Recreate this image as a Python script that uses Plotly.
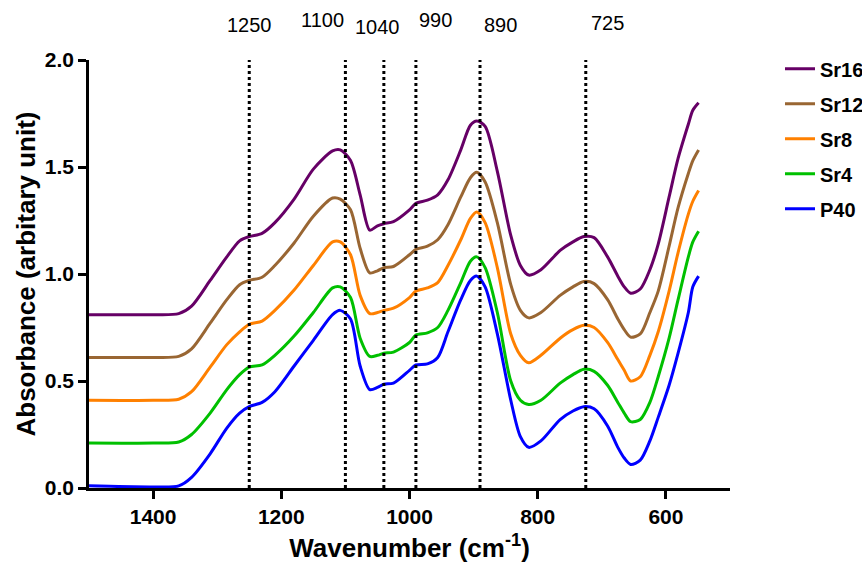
import plotly.graph_objects as go

# ---------------- data ----------------
wavenumber = [1500, 1400, 1360, 1340, 1311, 1285, 1265, 1250, 1230, 1210, 1180, 1150,
              1120, 1108, 1092, 1077, 1062, 1050, 1040, 1025, 1000, 990, 972, 956, 940,
              920, 905, 895, 882, 863, 842, 827, 814, 795, 765, 745, 728, 712, 691, 675,
              665, 655, 640, 625, 612, 595, 581, 565, 558, 549]

p40 = [0.01, 0.005, 0.01, 0.05, 0.16, 0.28, 0.35, 0.38, 0.40, 0.45, 0.57, 0.69,
       0.81, 0.83, 0.79, 0.57, 0.46, 0.47, 0.485, 0.49, 0.55, 0.575, 0.58, 0.61, 0.73,
       0.88, 0.97, 0.99, 0.94, 0.72, 0.41, 0.24, 0.19, 0.22, 0.32, 0.36, 0.38, 0.37, 0.29, 0.19,
       0.14, 0.11, 0.13, 0.22, 0.33, 0.48, 0.63, 0.82, 0.94, 0.99]

sr4 = [0.21, 0.21, 0.215, 0.25, 0.35, 0.46, 0.53, 0.565, 0.575, 0.62, 0.71, 0.82,
       0.935, 0.94, 0.89, 0.70, 0.615, 0.62, 0.63, 0.635, 0.68, 0.715, 0.725, 0.75, 0.83,
       0.96, 1.06, 1.08, 1.03, 0.82, 0.50, 0.41, 0.39, 0.41, 0.49, 0.53, 0.555, 0.545, 0.48, 0.40,
       0.35, 0.31, 0.32, 0.40, 0.52, 0.70, 0.88, 1.08, 1.15, 1.20]

sr8 = [0.41, 0.41, 0.415, 0.45, 0.565, 0.67, 0.73, 0.765, 0.78, 0.83, 0.925, 1.04,
       1.15, 1.15, 1.09, 0.90, 0.815, 0.82, 0.83, 0.84, 0.89, 0.92, 0.935, 0.96, 1.04,
       1.16, 1.26, 1.29, 1.24, 1.03, 0.72, 0.62, 0.585, 0.62, 0.70, 0.74, 0.76, 0.75, 0.68, 0.60,
       0.55, 0.50, 0.52, 0.62, 0.73, 0.92, 1.10, 1.28, 1.34, 1.39]

sr12 = [0.61, 0.61, 0.615, 0.65, 0.77, 0.88, 0.95, 0.97, 0.985, 1.04, 1.145, 1.27,
        1.355, 1.35, 1.30, 1.12, 1.005, 1.015, 1.03, 1.035, 1.09, 1.115, 1.13, 1.16, 1.23,
        1.36, 1.45, 1.475, 1.43, 1.24, 0.95, 0.83, 0.795, 0.82, 0.90, 0.94, 0.965, 0.955, 0.88, 0.79,
        0.74, 0.705, 0.72, 0.82, 0.92, 1.13, 1.31, 1.47, 1.53, 1.58]

sr16 = [0.81, 0.81, 0.815, 0.85, 0.97, 1.08, 1.155, 1.175, 1.19, 1.24, 1.35, 1.49,
        1.575, 1.58, 1.53, 1.37, 1.205, 1.225, 1.235, 1.245, 1.30, 1.33, 1.345, 1.37, 1.44,
        1.58, 1.695, 1.715, 1.69, 1.48, 1.18, 1.04, 0.995, 1.02, 1.11, 1.15, 1.175, 1.17, 1.08, 0.99,
        0.94, 0.91, 0.93, 1.02, 1.14, 1.36, 1.54, 1.70, 1.765, 1.80]

series_names = ["Sr16", "Sr12", "Sr8", "Sr4", "P40"]
series_values = [sr16, sr12, sr8, sr4, p40]
series_colors = ["#660066", "#996633", "#FF8000", "#00C000", "#0000FF"]

peak_positions = [1250, 1100, 1040, 990, 890, 725]
peak_labels = ["1250", "1100", "1040", "990", "890", "725"]
label_xshift = [0, -23, -6, 20, 20, 22]
label_ypx = [25, 20, 27, 20, 25, 23]

x_ticks = [1400, 1200, 1000, 800, 600]
y_ticks = [0.0, 0.5, 1.0, 1.5, 2.0]

# ---------------- figure ----------------
FONT = "Liberation Sans, Arial, Helvetica, sans-serif"
W, H = 862, 565
ML, MR, MT, MB = 89, 132, 60, 77

fig = go.Figure()
for name, vals, col in zip(series_names, series_values, series_colors):
    fig.add_trace(go.Scatter(
        x=wavenumber, y=vals, name=name, mode="lines",
        line=dict(color=col, width=3, shape="spline", smoothing=0.8),
        legendgroup=name,
    ))

for p in peak_positions:
    fig.add_shape(type="line", x0=p, x1=p, y0=0, y1=2.0, xref="x", yref="y",
                  line=dict(color="black", width=3, dash="dot"), layer="above")

plot_h = H - MT - MB
for p, lab, xs, ypx in zip(peak_positions, peak_labels, label_xshift, label_ypx):
    fig.add_annotation(x=p, y=(H - MB - ypx) / plot_h, xref="x", yref="paper",
                       text=lab, showarrow=False, xshift=xs,
                       xanchor="center", yanchor="middle",
                       font=dict(family=FONT, size=20, color="black"))

fig.update_layout(
    width=W, height=H,
    margin=dict(l=ML, r=MR, t=MT, b=MB, autoexpand=False),
    paper_bgcolor="white", plot_bgcolor="white",
    font=dict(family=FONT, color="black"),
    legend=dict(x=1.078, y=1.025, xanchor="left", yanchor="top",
                font=dict(family=FONT, size=20, color="black", weight="bold"),
                traceorder="grouped", tracegroupgap=6,
                bgcolor="rgba(0,0,0,0)", borderwidth=0),
    showlegend=True,
)

fig.update_xaxes(
    range=[1500, 500], tickvals=x_ticks, ticktext=[str(t) for t in x_ticks],
    showline=True, linecolor="black", linewidth=2.5, mirror=False,
    ticks="outside", ticklen=8, tickwidth=2.5, tickcolor="black",
    showgrid=False, zeroline=False,
    tickfont=dict(family=FONT, size=21, color="black", weight="bold"),
    title=dict(text="Wavenumber (cm<sup>-1</sup>)", standoff=12,
               font=dict(family=FONT, size=26, color="black", weight="bold")),
)
fig.update_yaxes(
    range=[0, 2.0], tickvals=y_ticks, ticktext=["%.1f" % t for t in y_ticks],
    showline=True, linecolor="black", linewidth=2.5,
    ticks="outside", ticklen=8, tickwidth=2.5, tickcolor="black",
    showgrid=False, zeroline=False,
    tickfont=dict(family=FONT, size=21, color="black", weight="bold"),
    title=dict(text="Absorbance (arbitary unit)", standoff=2,
               font=dict(family=FONT, size=26, color="black", weight="bold")),
)

fig.write_html("out.html")
